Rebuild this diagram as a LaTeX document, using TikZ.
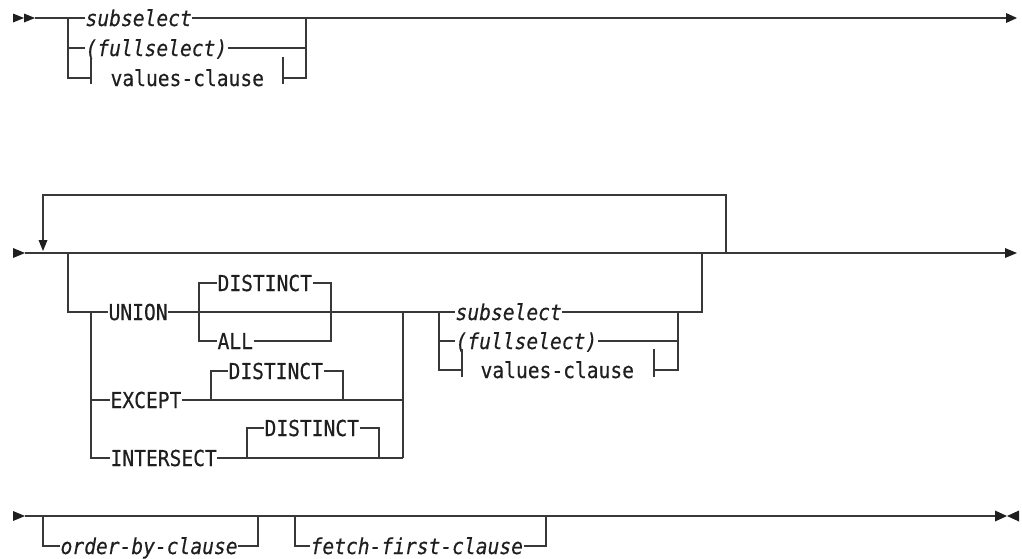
\documentclass[tikz,border=0pt]{standalone}
\usepackage{graphicx}
\usepackage{fontspec}
\newfontfamily\rrmono[FakeBold=0.4]{DejaVu Sans Mono}
\newcommand{\rrtxt}[1]{\scalebox{1}[1.12]{#1}}
\begin{document}
\begin{tikzpicture}[x=1pt,y=-1pt,line width=1.2pt,
  rail/.style={draw=black!78},
  kw/.style={anchor=west,inner sep=0pt,text height=16pt,text depth=0pt,
    font=\rrmono\fontsize{19.6}{20}\selectfont,text=black!88},
  var/.style={kw,font=\rrmono\itshape\fontsize{19.6}{20}\selectfont},
  tipfill/.style={fill=black!88,draw=none}]
\useasboundingbox (0,0) rectangle (1022,558);

% ---------------- Row 1 ----------------
\coordinate (r1s) at (35,18);
\coordinate (r1a) at (68,18);
\coordinate (r1b) at (306,18);
\coordinate (r1e) at (1006,18);
\coordinate (r1vl) at (91,78);
\coordinate (r1vr) at (283,78);
\node[var] (sub1) at (85,18) {\rrtxt{subselect}};
\node[var] (full1) at (85,48) {\rrtxt{(fullselect)}};
\node[kw] (vc1) at (110,78) {\rrtxt{values-clause}};
\fill[tipfill] (13,13.5) -- (24,18) -- (13,22.5) -- cycle;
\fill[tipfill] (24,13.5) -- (35,18) -- (24,22.5) -- cycle;
\draw[rail] (r1s) -- (sub1.west);
\draw[rail] (sub1.east) -- (r1e);
\fill[tipfill] (1006,13) -- (1017,18) -- (1006,23) -- cycle;
\draw[rail] (r1a) |- (full1.west);
\draw[rail] (r1a) |- (r1vl);
\draw[rail] ([yshift=-6pt]r1vl) -- ([yshift=21pt]r1vl);
\draw[rail] ([yshift=-6pt]r1vr) -- ([yshift=21pt]r1vr);
\draw[rail] (full1.east) -| (r1b);
\draw[rail] (r1vr) -| (r1b);

% ---------------- Row 2 ----------------
\coordinate (r2s) at (25,253);
\coordinate (r2e) at (1005,253);
\coordinate (lpA) at (43,195);
\coordinate (lpB) at (726,195);
\coordinate (lpC) at (726,253);
\coordinate (lpT) at (43,240);
\coordinate (j1) at (68,253);
\coordinate (j2) at (702,253);
\coordinate (j1d) at (68,312);
\coordinate (j2d) at (702,312);
\fill[tipfill] (13,248) -- (25,253) -- (13,258) -- cycle;
\draw[rail] (r2s) -- (r2e);
\fill[tipfill] (1005,248) -- (1017,253) -- (1005,258) -- cycle;
\draw[rail] (lpC) -- (lpB) -- (lpA) -- (lpT);
\fill[tipfill] (38.5,240) -- (47.5,240) -- (43,251) -- cycle;

\node[kw] (union) at (108,312) {\rrtxt{UNION}};
\node[kw] (dst1) at (217,283) {\rrtxt{DISTINCT}};
\node[kw] (all) at (217,341) {\rrtxt{ALL}};
\node[kw] (except) at (110,400) {\rrtxt{EXCEPT}};
\node[kw] (dst2) at (228,371) {\rrtxt{DISTINCT}};
\node[kw] (inter) at (110,458) {\rrtxt{INTERSECT}};
\node[kw] (dst3) at (264,428) {\rrtxt{DISTINCT}};
\node[var] (sub2) at (455,312) {\rrtxt{subselect}};
\node[var] (full2) at (455,341) {\rrtxt{(fullselect)}};
\node[kw] (vc2) at (480,370) {\rrtxt{values-clause}};

\coordinate (u1) at (199,312);
\coordinate (u2) at (331,312);
\coordinate (c1) at (91,312);
\coordinate (c2) at (403,312);
\coordinate (e1) at (211,400);
\coordinate (e2) at (343,400);
\coordinate (e3) at (403,400);
\coordinate (i1) at (247,458);
\coordinate (i2) at (379,458);
\coordinate (i3) at (403,458);
\coordinate (k1) at (439,312);
\coordinate (k2) at (678,312);
\coordinate (vl2) at (462,370);
\coordinate (vr2) at (654,370);

\draw[rail] (j1) -- (j1d) -- (union.west);
\draw[rail] (union.east) -- (sub2.west);
\draw[rail] (u1) |- (dst1.west);
\draw[rail] (u1) |- (all.west);
\draw[rail] (dst1.east) -| (u2);
\draw[rail] (all.east) -| (u2);
\draw[rail] (c1) |- (except.west);
\draw[rail] (c1) |- (inter.west);
\draw[rail] (except.east) -- (e3);
\draw[rail] (e1) |- (dst2.west);
\draw[rail] (dst2.east) -| (e2);
\draw[rail] (inter.east) -- (i3);
\draw[rail] (i1) |- (dst3.west);
\draw[rail] (dst3.east) -| (i2);
\draw[rail] (i3) -- (c2);
\draw[rail] (k1) |- (full2.west);
\draw[rail] (k1) |- (vl2);
\draw[rail] ([yshift=-7pt]vl2) -- ([yshift=21pt]vl2);
\draw[rail] ([yshift=-7pt]vr2) -- ([yshift=21pt]vr2);
\draw[rail] (vr2) -| (k2);
\draw[rail] (full2.east) -| (k2);
\draw[rail] (sub2.east) -- (j2d) -- (j2);

% ---------------- Row 3 ----------------
\coordinate (r3s) at (25,516);
\coordinate (r3e) at (995,516);
\coordinate (o1) at (43,516);
\coordinate (o2) at (258,516);
\coordinate (f1) at (295,516);
\coordinate (f2) at (546,516);
\node[var] (ob) at (60,546) {\rrtxt{order-by-clause}};
\node[var] (ff) at (310,546) {\rrtxt{fetch-first-clause}};
\fill[tipfill] (13,511) -- (25,516) -- (13,521) -- cycle;
\draw[rail] (r3s) -- (r3e);
\fill[tipfill] (995,510.5) -- (1007,516) -- (995,521.5) -- cycle;
\fill[tipfill] (1019,510.5) -- (1007,516) -- (1019,521.5) -- cycle;
\draw[rail] (o1) |- (ob.west);
\draw[rail] (ob.east) -| (o2);
\draw[rail] (f1) |- (ff.west);
\draw[rail] (ff.east) -| (f2);
\end{tikzpicture}
\end{document}
